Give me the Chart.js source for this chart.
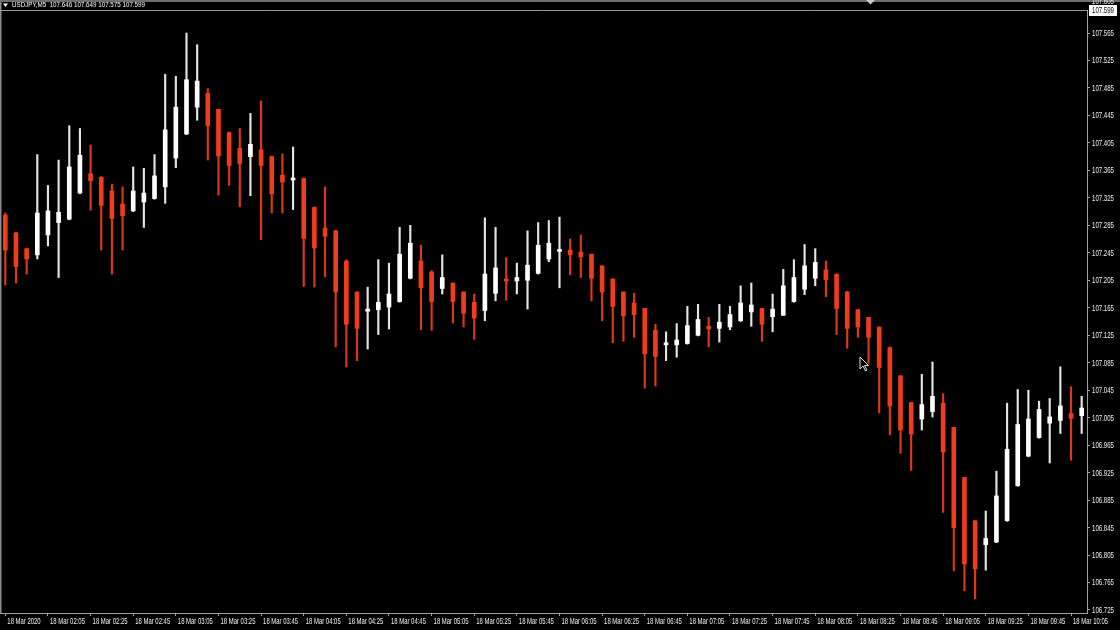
<!DOCTYPE html>
<html><head><meta charset="utf-8">
<script src="https://cdn.jsdelivr.net/npm/chart.js@4.4.0/dist/chart.umd.min.js"></script>
<style>html,body{margin:0;padding:0;background:#000;overflow:hidden}canvas{display:block}</style>
</head><body>
<canvas id="c" width="1120" height="630"></canvas>
<script>
const symbolTitle = "USDJPY,M5  107.646 107.649 107.575 107.599";
const bidPrice = 107.599;
const dayPrefix = "18 Mar ";
const firstLabel = "18 Mar 2020";
const times = ["01:45","01:50","01:55",
"02:00","02:05","02:10","02:15","02:20","02:25","02:30","02:35","02:40","02:45","02:50","02:55",
"03:00","03:05","03:10","03:15","03:20","03:25","03:30","03:35","03:40","03:45","03:50","03:55",
"04:00","04:05","04:10","04:15","04:20","04:25","04:30","04:35","04:40","04:45","04:50","04:55",
"05:00","05:05","05:10","05:15","05:20","05:25","05:30","05:35","05:40","05:45","05:50","05:55",
"06:00","06:05","06:10","06:15","06:20","06:25","06:30","06:35","06:40","06:45","06:50","06:55",
"07:00","07:05","07:10","07:15","07:20","07:25","07:30","07:35","07:40","07:45","07:50","07:55",
"08:00","08:05","08:10","08:15","08:20","08:25","08:30","08:35","08:40","08:45","08:50","08:55",
"09:00","09:05","09:10","09:15","09:20","09:25","09:30","09:35","09:40","09:45","09:50","09:55",
"10:00","10:05","10:10"];
const openP = [107.300,107.274,107.251,107.242,107.271,107.289,107.294,107.332,107.360,107.355,
107.335,107.316,107.306,107.319,107.324,107.341,107.383,107.418,107.457,107.477,
107.454,107.420,107.397,107.385,107.395,107.385,107.358,107.351,107.353,107.311,
107.281,107.277,107.233,107.188,107.160,107.162,107.166,107.174,107.208,107.233,
107.217,107.193,107.201,107.188,107.173,107.161,107.186,107.206,107.204,107.205,
107.215,107.236,107.247,107.249,107.246,107.243,107.226,107.207,107.188,107.172,
107.164,107.132,107.111,107.111,107.113,107.125,107.138,107.135,107.137,107.146,
107.159,107.164,107.152,107.154,107.174,107.192,107.208,107.220,107.214,107.188,
107.162,107.151,107.137,107.107,107.066,107.027,107.003,107.014,107.026,106.991,
106.918,106.855,106.820,106.824,106.855,106.906,106.949,106.976,106.997,107.001,
107.011,107.008];
const highP = [107.303,107.275,107.252,107.388,107.343,107.380,107.430,107.426,107.402,107.356,
107.345,107.341,107.370,107.368,107.388,107.505,107.502,107.565,107.548,107.484,
107.454,107.421,107.426,107.448,107.466,107.386,107.389,107.399,107.354,107.312,
107.341,107.278,107.235,107.188,107.195,107.235,107.230,107.282,107.285,107.256,
107.219,107.242,107.201,107.188,107.185,107.296,107.282,107.238,107.230,107.277,
107.289,107.292,107.297,107.265,107.271,107.243,107.226,107.207,107.188,107.186,
107.164,107.141,107.130,107.142,107.167,107.170,107.151,107.170,107.167,107.197,
107.201,107.164,107.185,107.221,107.235,107.257,107.251,107.233,107.214,107.189,
107.163,107.151,107.137,107.108,107.066,107.027,107.068,107.086,107.040,106.991,
106.918,106.855,106.869,106.927,107.026,107.046,107.045,107.029,107.033,107.079,
107.050,107.036];
const lowP = [107.198,107.201,107.214,107.236,107.255,107.209,107.293,107.331,107.307,107.249,
107.214,107.249,107.305,107.282,107.323,107.317,107.369,107.417,107.438,107.380,
107.329,107.343,107.312,107.328,107.264,107.303,107.303,107.308,107.196,107.195,
107.210,107.108,107.079,107.088,107.105,107.126,107.134,107.173,107.207,107.133,
107.132,107.185,107.143,107.137,107.119,107.146,107.175,107.176,107.185,107.163,
107.214,107.232,107.194,107.213,107.209,107.175,107.146,107.114,107.116,107.122,
107.048,107.051,107.088,107.093,107.112,107.124,107.108,107.115,107.133,107.145,
107.138,107.116,107.130,107.154,107.173,107.184,107.197,107.181,107.126,107.106,
107.122,107.084,107.012,106.980,106.953,106.928,106.987,107.006,106.867,106.782,
106.753,106.741,106.783,106.823,106.854,106.905,106.948,106.975,106.939,106.982,
106.943,106.982];
const closeP = [107.249,107.225,107.236,107.303,107.306,107.304,107.370,107.387,107.350,107.314,
107.295,107.299,107.335,107.332,107.357,107.424,107.457,107.497,107.495,107.430,
107.386,107.372,107.375,107.403,107.372,107.331,107.348,107.353,107.266,107.252,
107.269,107.188,107.141,107.135,107.163,107.173,107.185,107.243,107.259,107.194,
107.174,107.209,107.174,107.157,107.150,107.214,107.223,107.204,107.209,107.227,
107.256,107.259,107.249,107.242,107.239,107.208,107.188,107.167,107.153,107.155,
107.098,107.094,107.114,107.118,107.139,107.148,107.134,107.144,107.155,107.172,
107.169,107.141,107.163,107.197,107.209,107.226,107.231,107.206,107.164,107.135,
107.137,107.122,107.078,107.022,106.987,106.981,107.024,107.036,106.955,106.845,
106.792,106.785,106.829,106.891,106.959,106.995,107.003,107.017,107.006,107.022,
107.004,107.019];
const yTickValues = [106.725,106.765,106.805,106.845,106.885,106.925,106.965,107.005,107.045,107.085,
107.125,107.165,107.205,107.245,107.285,107.325,107.365,107.405,107.445,107.485,107.525,107.565];
const yMin = 106.7206, yMax = 107.5985;
const partialTopTick = "107.605";

const BULL = '#ffffff', BEAR = '#f03c18';
const BULL_WICK = '#e4e4e4', BEAR_WICK = '#dc3818';
const FONT = "'Liberation Sans','DejaVu Sans',sans-serif";
const TEXT_COLOR = '#f0f0f0';

function xTickText(v) { return v === 0 ? firstLabel : dayPrefix + times[v]; }

// draw text squeezed horizontally (small terminal-style font)
function squeezed(c, text, x, y, sx) {
  c.save(); c.translate(x, y); c.scale(sx, 1); c.fillText(text, 0, 0); c.restore();
}

const framePlugin = {
  id: 'frame',
  beforeDraw(chart) {
    const c = chart.ctx;
    c.save(); c.fillStyle = '#000'; c.fillRect(0, 0, chart.width, chart.height); c.restore();
  },
  afterDraw(chart) {
    const c = chart.ctx, a = chart.chartArea, ys = chart.scales.y, xs = chart.scales.x;
    c.save();
    c.font = '9px ' + FONT; c.textBaseline = 'middle'; c.textAlign = 'left';
    // axis tick labels (narrow)
    c.fillStyle = TEXT_COLOR;
    const sxX = 35 / c.measureText(dayPrefix + '02:05').width;
    xs.ticks.forEach(t => {
      squeezed(c, xTickText(t.value), xs.getPixelForValue(t.value) + 2, a.bottom + 9, sxX);
    });
    const sxY = 22 / c.measureText('107.565').width;
    yTickValues.forEach(v => {
      squeezed(c, v.toFixed(3), a.right + 5, ys.getPixelForValue(v) + 0.5, sxY);
    });
    // top strip + shift marker
    c.fillStyle = '#6e6e6e'; c.fillRect(0, 0, chart.width, 2);
    c.fillStyle = '#c8c8c8';
    c.beginPath(); c.moveTo(866, 0); c.lineTo(875, 0); c.lineTo(870.5, 4.5); c.closePath(); c.fill();
    // left border
    c.fillStyle = '#8c8c8c'; c.fillRect(0, 2, 1.5, a.bottom - 2);
    // bid line
    const by = Math.round(ys.getPixelForValue(bidPrice)) + 0.5;
    c.strokeStyle = '#9a9a9a'; c.lineWidth = 1;
    c.beginPath(); c.moveTo(0, by); c.lineTo(a.right, by); c.stroke();
    // title
    c.fillStyle = '#ffffff';
    c.beginPath(); c.moveTo(3, 3.5); c.lineTo(8, 3.5); c.lineTo(5.5, 7); c.closePath(); c.fill();
    c.font = '8px ' + FONT;
    const sxT = 133 / c.measureText(symbolTitle).width;
    squeezed(c, symbolTitle, 12, 5, sxT);
    c.font = '9px ' + FONT;
    // partial top tick + bid price box
    c.fillStyle = TEXT_COLOR;
    squeezed(c, partialTopTick, a.right + 5, 2, sxY);
    c.fillStyle = '#ffffff'; c.fillRect(a.right + 2, by - 5.5, 28, 11);
    c.fillStyle = '#000000';
    squeezed(c, bidPrice.toFixed(3), a.right + 5, by + 0.5, sxY);
    // mouse cursor
    const mx = 860, my = 357;
    c.beginPath();
    c.moveTo(mx, my); c.lineTo(mx, my + 12); c.lineTo(mx + 3, my + 9); c.lineTo(mx + 5.5, my + 14);
    c.lineTo(mx + 7, my + 13); c.lineTo(mx + 4.5, my + 8.5); c.lineTo(mx + 8.5, my + 8.5); c.closePath();
    c.fillStyle = '#000'; c.fill(); c.strokeStyle = '#e0e0e0'; c.lineWidth = 1; c.stroke();
    c.restore();
  }
};

new Chart(document.getElementById('c'), {
  type: 'bar',
  data: {
    labels: times,
    datasets: [
      {
        label: 'body', data: openP.map((o, i) => [o, closeP[i]]), order: 0, grouped: false,
        barThickness: 4, minBarLength: 2, borderWidth: 0, borderSkipped: false,
        backgroundColor: openP.map((o, i) => closeP[i] >= o ? BULL : BEAR)
      },
      {
        label: 'wick', data: lowP.map((l, i) => [l, highP[i]]), order: 1, grouped: false,
        barThickness: 1.5, borderWidth: 0, borderSkipped: false,
        backgroundColor: openP.map((o, i) => closeP[i] >= o ? BULL_WICK : BEAR_WICK)
      }
    ]
  },
  options: {
    responsive: false, animation: false,
    layout: { padding: { top: 10, left: -2, right: 0, bottom: 0 } },
    plugins: { legend: { display: false }, tooltip: { enabled: false } },
    scales: {
      x: {
        type: 'category', offset: true,
        grid: { display: true, drawOnChartArea: false, drawTicks: true, tickLength: 3, color: '#a0a0a0', offset: false },
        border: { display: true, color: '#a0a0a0', width: 1 },
        ticks: { display: false, autoSkip: false, maxRotation: 0, minRotation: 0 },
        afterBuildTicks: s => { s.ticks = s.ticks.filter(t => t.value % 4 === 0); },
        afterFit: s => { s.height = 17; }
      },
      y: {
        type: 'linear', position: 'right', min: yMin, max: yMax,
        grid: { display: true, drawOnChartArea: false, drawTicks: true, tickLength: 3, color: '#a0a0a0' },
        border: { display: true, color: '#a0a0a0', width: 1 },
        ticks: { display: false },
        afterBuildTicks: s => { s.ticks = yTickValues.map(v => ({ value: v })); },
        afterFit: s => { s.width = 33; }
      }
    }
  },
  plugins: [framePlugin]
});
</script>
</body></html>
